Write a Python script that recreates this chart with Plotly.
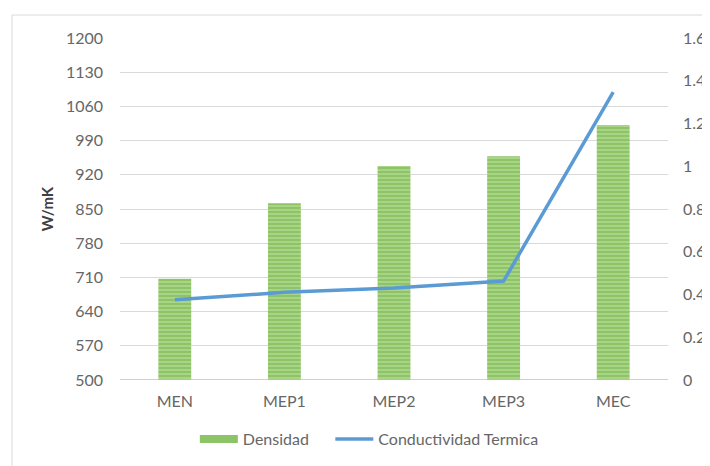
import plotly.graph_objects as go

categories = ["MEN", "MEP1", "MEP2", "MEP3", "MEC"]
densidad = [707, 862, 938, 958, 1022]
conductividad = [0.375, 0.41, 0.43, 0.463, 1.347]
left_ticks = [500, 570, 640, 710, 780, 850, 920, 990, 1060, 1130, 1200]
right_ticks = [0, 0.2, 0.4, 0.6, 0.8, 1, 1.2, 1.4, 1.6]
right_labels = ["0", "0.2", "0.4", "0.6", "0.8", "1", "1.2", "1.4", "1.6"]

# page has an 8px body margin; figure sized to fill the rest of the window
W, H = 702, 458
ml, mr, mt, mb = 112, 42, 30, 86
pw, ph = W - ml - mr, H - mt - mb

GREEN_BG = "#a8d585"
GREEN_FG = "#6fae42"

fig = go.Figure()
fig.add_trace(go.Bar(
    x=categories, y=[d - 500 for d in densidad], base=500, name="Densidad",
    width=0.3, showlegend=False, legendgroup="d",
    marker=dict(color=GREEN_BG, line=dict(width=0),
                pattern=dict(shape="-", fgcolor=GREEN_FG, bgcolor=GREEN_BG, size=4, solidity=0.45)),
))
fig.add_trace(go.Scatter(
    x=[None], y=[None], name="Densidad    ", mode="lines", legendgroup="d",
    line=dict(color="#8cc467", width=8),
))
fig.add_trace(go.Scatter(
    x=categories, y=conductividad, name="Conductividad Termica", yaxis="y2",
    mode="lines", line=dict(color="#5b9bd5", width=3.5),
))

font = dict(family="Lato, Open Sans, Liberation Sans, sans-serif", size=16, color="#666666")
fig.update_layout(
    width=W, height=H, margin=dict(l=ml, r=mr, t=mt, b=mb, autoexpand=False),
    paper_bgcolor="white", plot_bgcolor="white", font=font,
    showlegend=True,
    legend=dict(orientation="h", x=0.455, xanchor="center", y=-42 / ph, yanchor="top",
                font=dict(size=16, color="#666666"), itemwidth=38, tracegroupgap=0),
    xaxis=dict(showgrid=False, showline=False, ticks="", tickfont=font, ticklabelstandoff=10,
               automargin=False),
    yaxis=dict(range=[500, 1200], tickvals=left_ticks, ticktext=[str(t) for t in left_ticks],
               showgrid=True, gridcolor="#d9d9d9", gridwidth=1, zeroline=False, showline=False,
               ticks="", tickfont=font, ticklabelstandoff=16, automargin=False,
               title=dict(text="<b>W/mK</b>", font=dict(size=15, color="#404040"), standoff=8)),
    yaxis2=dict(range=[0, 1.6], tickvals=right_ticks, ticktext=right_labels, overlaying="y",
                side="right", showgrid=False, zeroline=False, showline=False, ticks="",
                tickfont=font, ticklabelstandoff=14, automargin=False),
    shapes=[
        dict(type="line", xref="paper", yref="y", x0=0, x1=1, y0=500, y1=500,
             line=dict(color="#bfbfbf", width=1.5), layer="above"),
        dict(type="rect", xref="paper", yref="paper",
             x0=(4 - ml) / pw, x1=(W + 5 - ml) / pw,
             y0=-(mb + 5) / ph, y1=1 + (mt - 7) / ph,
             line=dict(color="#d9d9d9", width=1), fillcolor="rgba(0,0,0,0)", layer="below"),
    ],
)

fig.write_html("out.html")
